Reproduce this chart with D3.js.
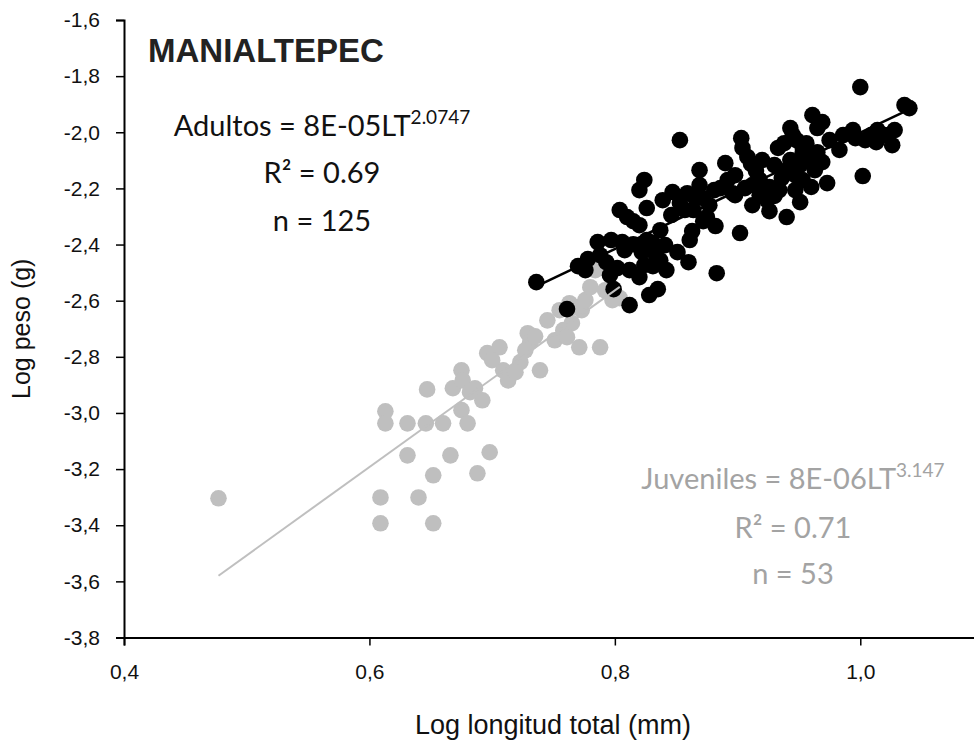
<!DOCTYPE html>
<html>
<head>
<meta charset="utf-8">
<script src="https://cdn.jsdelivr.net/npm/d3@7"></script>
<style>
  body { margin: 0; background: #fff; }
  svg { display: block; }
</style>
</head>
<body>
<svg id="chart"></svg>
<script>
// Log longitud total (mm) vs Log peso (g)
const adultX = [0.736,0.761,0.770,0.778,0.786,0.797,0.806,0.815,0.826,0.831,
  0.793,0.802,0.812,0.820,0.831,0.842,0.822,0.833,0.837,0.851,
  0.860,0.883,0.799,0.812,0.828,0.835,0.804,0.810,0.815,0.820,
  0.826,0.824,0.820,0.839,0.847,0.853,0.859,0.865,0.872,0.857,
  0.864,0.853,0.869,0.875,0.882,0.863,0.872,0.886,0.892,0.898,
  0.906,0.912,0.890,0.903,0.904,0.908,0.911,0.915,0.902,0.912,
  0.924,0.926,0.940,0.926,0.930,0.934,0.936,0.940,0.933,0.938,
  0.943,0.945,0.948,0.956,0.953,0.965,0.969,0.963,0.953,0.960,
  0.973,0.951,0.961,0.969,0.965,0.986,0.994,0.996,1.009,1.014,
  1.013,1.028,1.026,1.002,1.000,1.036,1.040,0.896,0.943,0.953,
  0.788,0.808,0.824,0.796,0.841,0.861,0.869,0.877,0.881,0.918,
  0.920,0.930,0.947,0.951,0.959,0.975,0.983,1.004,1.020,0.918,
  0.898,0.837,0.846,0.776,0.947];
const adultY = [-2.534,-2.630,-2.477,-2.452,-2.391,-2.384,-2.391,-2.399,-2.384,-2.395,
  -2.463,-2.484,-2.491,-2.516,-2.477,-2.491,-2.427,-2.434,-2.456,-2.427,
  -2.463,-2.502,-2.559,-2.616,-2.580,-2.559,-2.277,-2.302,-2.317,-2.331,
  -2.270,-2.170,-2.206,-2.242,-2.213,-2.252,-2.217,-2.231,-2.235,-2.277,
  -2.277,-2.028,-2.135,-2.302,-2.334,-2.352,-2.317,-2.199,-2.170,-2.224,
  -2.199,-2.188,-2.110,-2.021,-2.056,-2.088,-2.113,-2.138,-2.359,-2.260,
  -2.242,-2.281,-2.302,-2.195,-2.227,-2.206,-2.163,-2.135,-2.056,-2.039,
  -1.985,-2.010,-2.028,-2.039,-2.074,-2.071,-2.106,-2.135,-2.170,-2.195,
  -2.181,-2.249,-1.939,-1.964,-1.985,-2.010,-1.992,-2.021,-2.010,-1.992,
  -2.035,-1.992,-2.046,-2.156,-1.839,-1.903,-1.914,-2.217,-2.099,-2.053,
  -2.438,-2.420,-2.473,-2.509,-2.402,-2.384,-2.188,-2.260,-2.206,-2.170,
  -2.099,-2.117,-2.153,-2.117,-2.099,-2.028,-2.063,-2.028,-2.010,-2.224,
  -2.153,-2.349,-2.295,-2.491,-2.206];

const juvX = [0.477,0.613,0.613,0.631,0.646,0.660,0.631,0.666,0.652,0.609,
  0.640,0.609,0.652,0.647,0.668,0.675,0.676,0.686,0.692,0.675,
  0.680,0.698,0.688,0.696,0.706,0.709,0.713,0.723,0.729,0.731,
  0.739,0.745,0.751,0.758,0.763,0.765,0.771,0.788,0.773,0.784,
  0.769,0.804,0.761,0.682,0.727,0.755,0.776,0.792,0.798,0.780,
  0.735,0.719,0.700];
const juvY = [-3.304,-2.994,-3.037,-3.037,-3.037,-3.037,-3.151,-3.151,-3.222,-3.301,
  -3.301,-3.393,-3.393,-2.916,-2.912,-2.848,-2.884,-2.912,-2.955,-2.990,
  -3.037,-3.140,-3.215,-2.787,-2.766,-2.848,-2.884,-2.819,-2.716,-2.748,
  -2.848,-2.670,-2.741,-2.705,-2.609,-2.680,-2.766,-2.766,-2.634,-2.491,
  -2.623,-2.591,-2.730,-2.926,-2.777,-2.634,-2.598,-2.563,-2.598,-2.552,
  -2.727,-2.855,-2.812];

// power fits, log10(peso) = log10(a) + b * log10(LT)
const adultFit = {a: 8.4e-5, b: 2.0747};
const juvFit = {a: 8.3e-6, b: 3.147};

const xTicks = [0.4, 0.6, 0.8, 1.0];
const yTicks = [-1.6, -1.8, -2.0, -2.2, -2.4, -2.6, -2.8, -3.0, -3.2, -3.4, -3.6, -3.8];

function main() {
  const width = 974, height = 742;
  const black = "#000", grey = "#bfbfbf", greyText = "#a3a3a3";

  const svg = d3.select("#chart")
    .attr("width", width)
    .attr("height", height)
    .style("font-family", "'Liberation Sans', Arial, sans-serif");

  const x = d3.scaleLinear().domain([0.4, 1.1]).range([124, 983]);
  const y = d3.scaleLinear().domain([-3.8, -1.6]).range([637.5, 20]);

  const comma = d3.formatLocale({decimal: ",", thousands: ".", grouping: [3], currency: ["", ""], minus: "-"})
    .format(".1f");

  // axes
  const xAxis = svg.append("g")
    .attr("transform", `translate(0,${y(-3.8)})`)
    .call(d3.axisBottom(x).tickValues(xTicks).tickFormat(comma).tickSizeOuter(0).tickSize(8));
  const yAxis = svg.append("g")
    .attr("transform", `translate(${x(0.4)},0)`)
    .call(d3.axisLeft(y).tickValues(yTicks).tickFormat(comma).tickSizeOuter(0).tickSize(8));

  [xAxis, yAxis].forEach(g => {
    g.select(".domain").attr("stroke", black).attr("stroke-width", 2);
    g.selectAll(".tick line").attr("stroke", black).attr("stroke-width", 1.5);
    g.selectAll(".tick text")
      .attr("fill", "#111")
      .style("font-size", "21px")
      .style("font-family", "'Liberation Sans', Arial, sans-serif");
  });
  xAxis.selectAll(".tick text").attr("dy", "1.45em");
  yAxis.selectAll(".tick text").attr("dx", "-13px");

  // points
  const juv = juvX.map((d, i) => ({x: d, y: juvY[i]}));
  const adult = adultX.map((d, i) => ({x: d, y: adultY[i]}));

  svg.append("g").selectAll("circle")
    .data(juv).enter()
    .append("circle")
      .attr("cx", d => x(d.x))
      .attr("cy", d => y(d.y))
      .attr("r", 8.3)
      .attr("fill", grey);

  svg.append("g").selectAll("circle")
    .data(adult).enter()
    .append("circle")
      .attr("cx", d => x(d.x))
      .attr("cy", d => y(d.y))
      .attr("r", 8.3)
      .attr("fill", black);

  // trend lines
  const fitLine = (fit, ext) => ext.map(v => ({x: v, y: Math.log10(fit.a) + fit.b * v}));
  const lineMaker = d3.line().x(d => x(d.x)).y(d => y(d.y));

  svg.append("path")
    .attr("d", lineMaker(fitLine(juvFit, d3.extent(juvX))))
    .attr("stroke", grey).attr("stroke-width", 2).attr("fill", "none");
  svg.append("path")
    .attr("d", lineMaker(fitLine(adultFit, d3.extent(adultX))))
    .attr("stroke", black).attr("stroke-width", 2.5).attr("fill", "none");

  // titles
  svg.append("text")
    .attr("x", 148).attr("y", 62)
    .attr("font-weight", "bold")
    .attr("font-size", 33)
    .attr("fill", "#222")
    .text("MANIALTEPEC");

  svg.append("text")
    .attr("transform", `translate(30,${y(-2.7)}) rotate(-90)`)
    .attr("text-anchor", "middle")
    .attr("font-size", 25)
    .attr("fill", "#111")
    .text("Log peso (g)");

  svg.append("text")
    .attr("x", 553).attr("y", 734)
    .attr("text-anchor", "middle")
    .attr("font-size", 27)
    .attr("fill", "#111")
    .text("Log longitud total (mm)");

  // equations
  const eqFont = "Lato, 'Open Sans', sans-serif";
  function equation(cx, yy, lines, col) {
    const g = svg.append("g")
      .attr("fill", col)
      .style("font-family", eqFont)
      .attr("font-size", 29)
      .attr("text-anchor", "middle");
    lines.forEach((l, i) => {
      const t = g.append("text").attr("x", cx).attr("y", yy[i]);
      t.append("tspan").text(l.main);
      if (l.sup) {
        t.append("tspan").attr("dy", -12).attr("font-size", 19).text(l.sup);
      }
    });
  }

  equation(322, [136, 183, 231], [
    {main: "Adultos = 8E-05LT", sup: "2.0747"},
    {main: "R² = 0.69"},
    {main: "n = 125"}
  ], "#111");

  equation(793, [489, 538, 584], [
    {main: "Juveniles = 8E-06LT", sup: "3.147"},
    {main: "R² = 0.71"},
    {main: "n = 53"}
  ], greyText);
}

window.addEventListener("load", main);
</script>
</body>
</html>
